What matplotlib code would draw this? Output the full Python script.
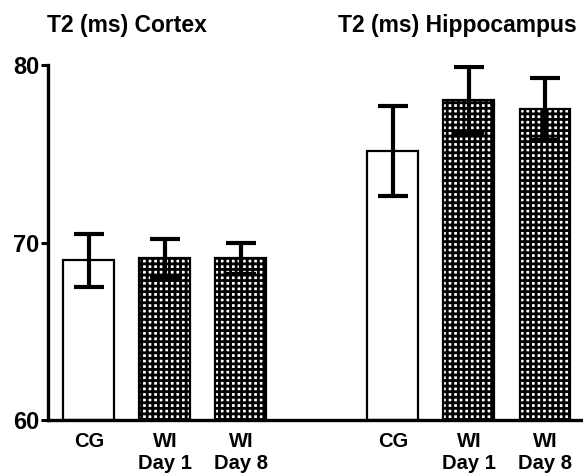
import matplotlib
matplotlib.use("Agg")
import matplotlib.pyplot as plt

plt.rcParams['font.family'] = 'Liberation Sans'
plt.rcParams['font.weight'] = 'bold'
plt.rcParams['hatch.linewidth'] = 2.0

# data
groups = ["CG", "WI\nDay 1", "WI\nDay 8", "CG", "WI\nDay 1", "WI\nDay 8"]
positions = [0, 1, 2, 4, 5, 6]
means = [69.0, 69.1, 69.1, 75.15, 78.05, 77.55]
errors = [1.5, 1.1, 0.9, 2.55, 1.85, 1.75]
hatched = [False, True, True, False, True, True]

fig = plt.figure(figsize=(5.83, 4.76), dpi=100)
ax = fig.add_axes([0.082, 0.118, 0.918, 0.745])

for p, m, e, h in zip(positions, means, errors, hatched):
    ax.bar(p, m - 60, bottom=60, width=0.67, color='white', edgecolor='black',
           linewidth=1.6, hatch='+++' if h else None, zorder=2)
ax.errorbar(positions, means, yerr=errors, fmt='none', ecolor='black',
            elinewidth=3, capsize=11, capthick=3, zorder=3)

ax.set_ylim(60, 80)
ax.set_xlim(-0.54, 6.5)
ax.set_yticks([60, 70, 80])
ax.set_xticks(positions)
ax.set_xticklabels(groups, fontsize=14.5, fontweight='bold', linespacing=1.2)
ax.tick_params(axis='y', labelsize=17, width=2.2, length=5, pad=1)
ax.tick_params(axis='x', length=0, pad=9)
for lbl in ax.get_yticklabels():
    lbl.set_fontweight('bold')
ax.spines['top'].set_visible(False)
ax.spines['right'].set_visible(False)
ax.spines['left'].set_linewidth(2.4)
ax.spines['bottom'].set_linewidth(2.4)

fig.text(0.081, 0.947, "T2 (ms) Cortex", fontsize=16.5, fontweight='bold', va='center')
fig.text(0.58, 0.947, "T2 (ms) Hippocampus", fontsize=16.5, fontweight='bold', va='center')

fig.savefig("out.png", dpi=100)
